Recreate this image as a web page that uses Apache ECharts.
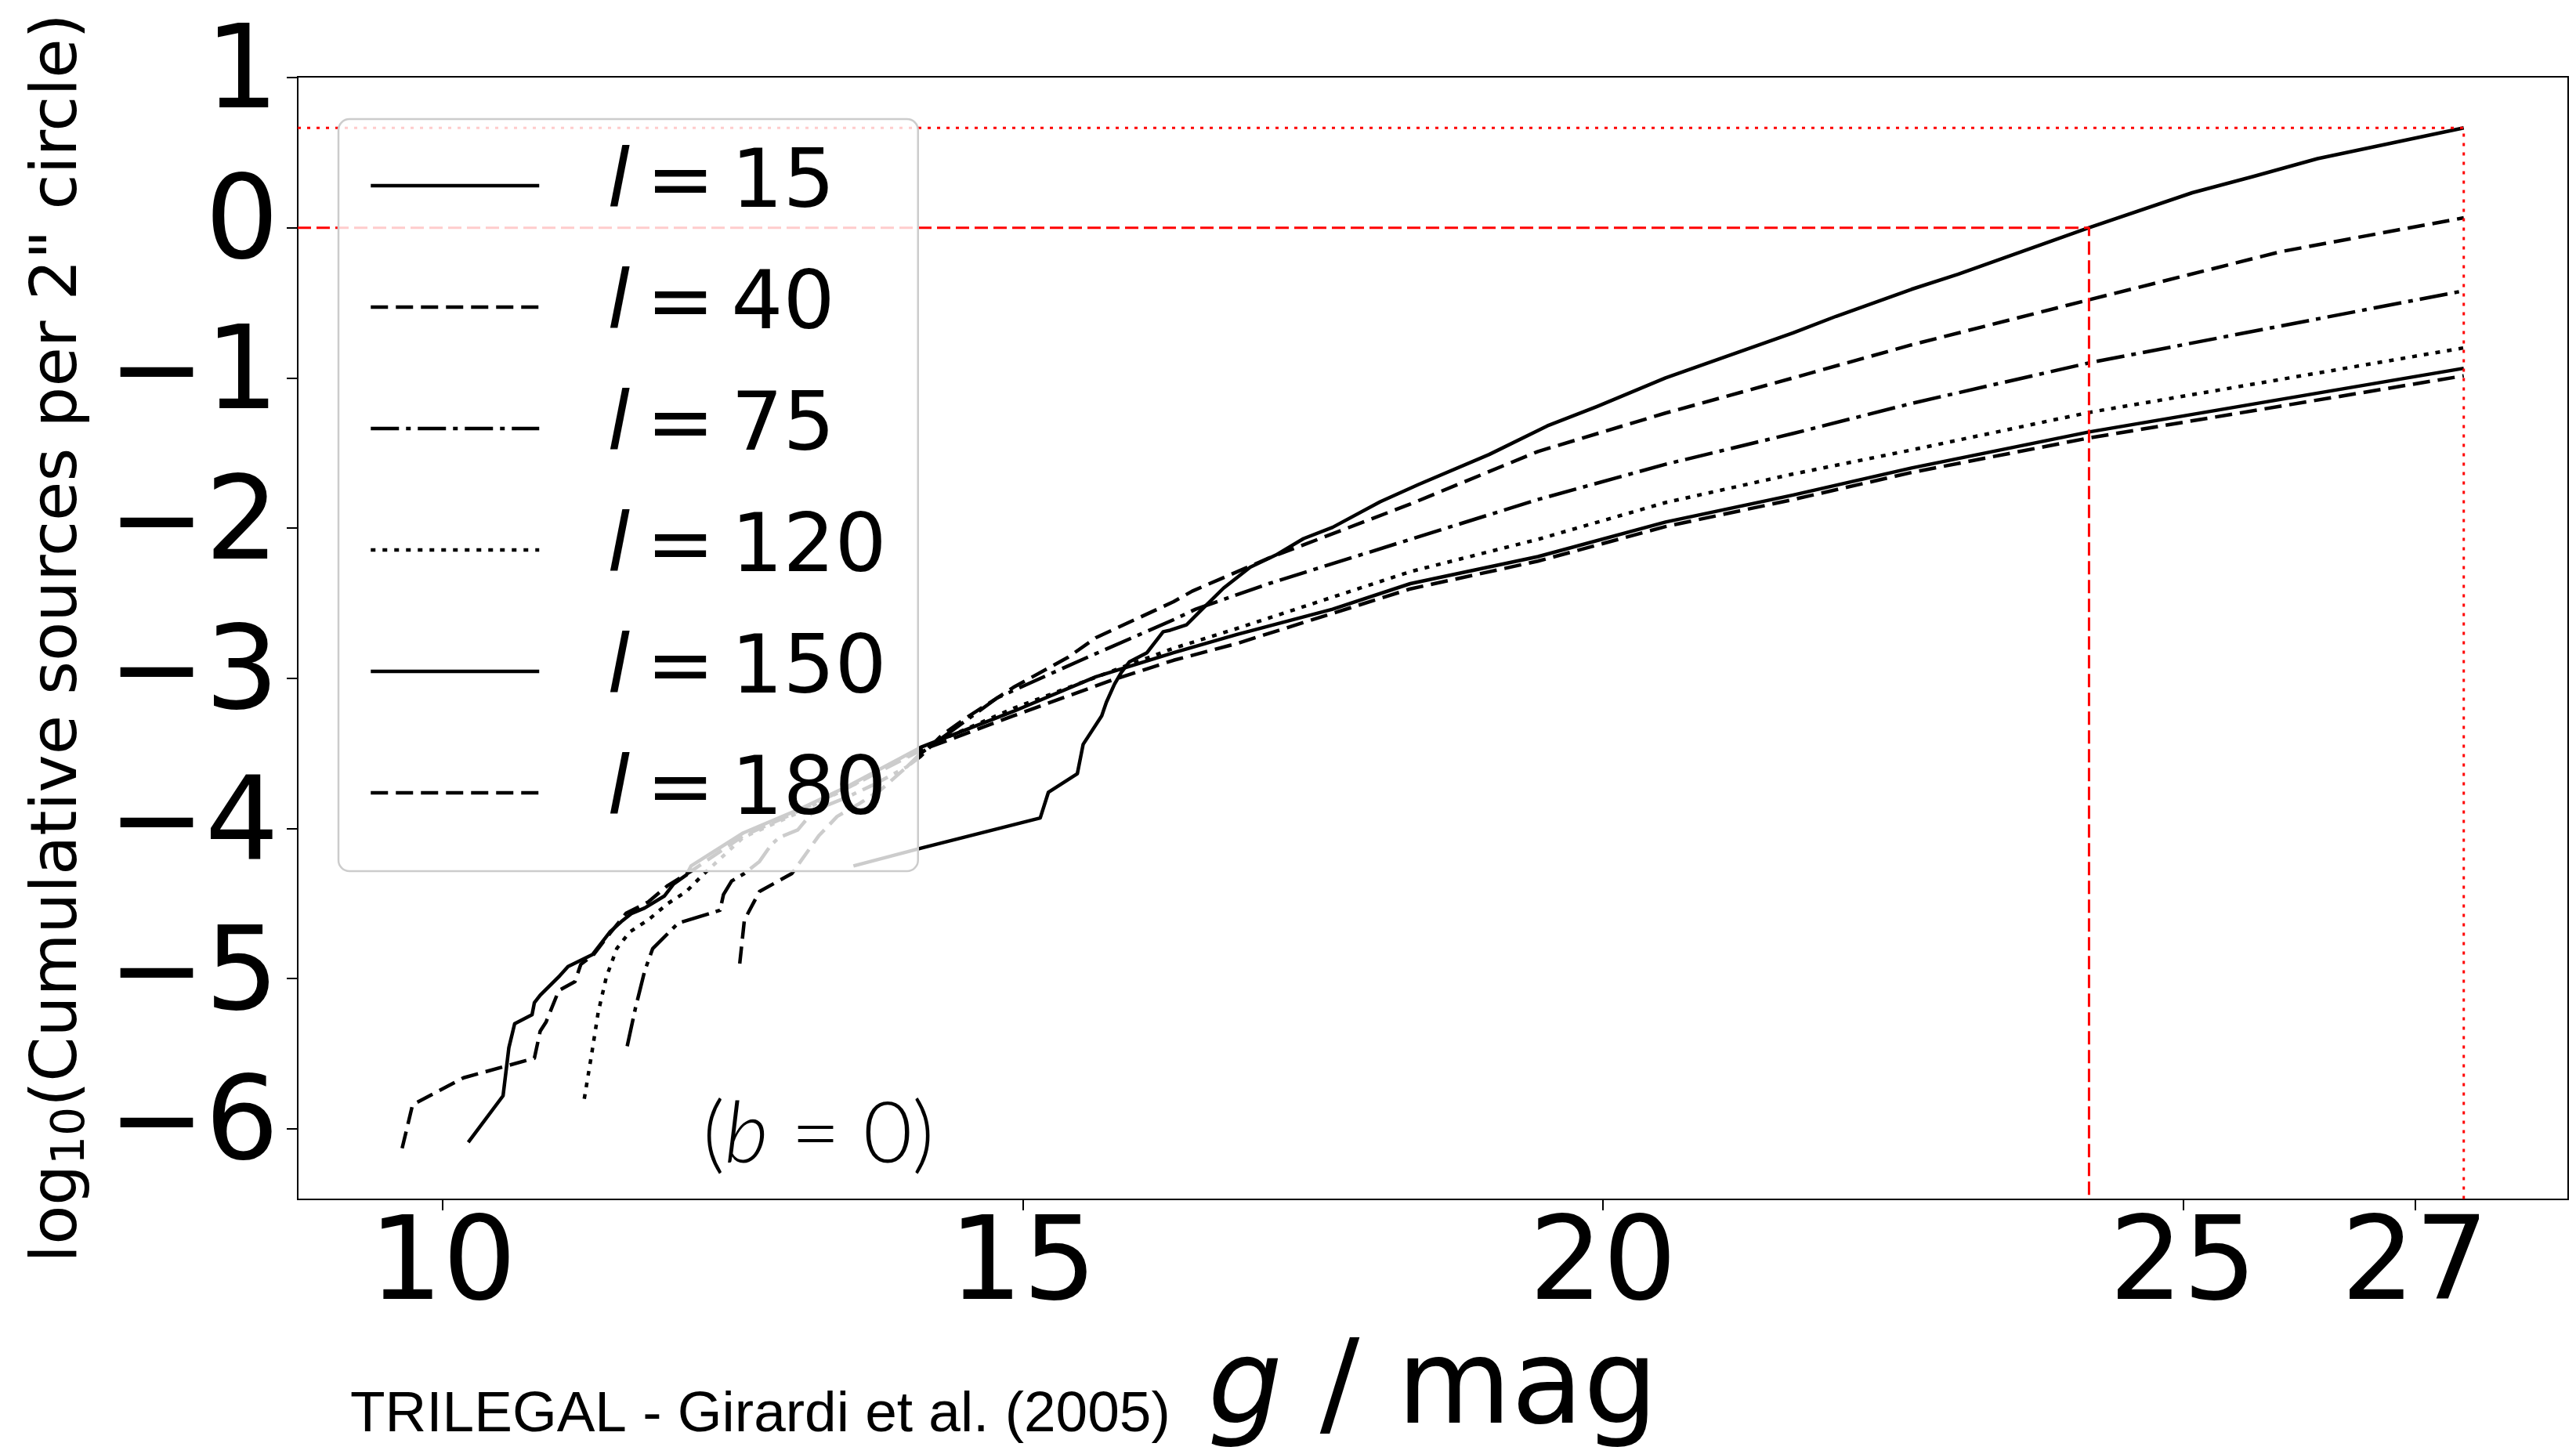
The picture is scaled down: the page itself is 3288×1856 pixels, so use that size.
<!DOCTYPE html>
<html>
<head>
<meta charset="utf-8">
<title>TRILEGAL cumulative source counts</title>
<script src="https://cdn.jsdelivr.net/npm/echarts@6/dist/echarts.min.js"></script>
<style>
  html, body { margin: 0; padding: 0; background: #fff; }
  #chart { width: 3288px; height: 1856px; }
</style>
</head>
<body>
<div id="chart"></div>
<script>
// galactic longitudes, all at b = 0
var longitudes = [15, 40, 75, 120, 150, 180];

// [g mag, log10 cumulative sources per 2" circle]
var counts15 = [[13.54,-4.25],[14.13,-4.13],[15.15,-3.93],[15.22,-3.76],[15.47,-3.635],[15.52,-3.44],[15.68,-3.25],[15.72,-3.16],
  [15.79,-3.04],[15.85,-2.96],[15.92,-2.89],[16.07,-2.83],[16.21,-2.69],[16.27,-2.68],[16.41,-2.645],[16.52,-2.56],[16.73,-2.40],
  [16.96,-2.26],[17.18,-2.18],[17.42,-2.07],[17.67,-1.995],[18.08,-1.825],[18.41,-1.71],[19.02,-1.51],[19.52,-1.32],[19.95,-1.19],
  [20.54,-1.00],[20.98,-0.88],[21.64,-0.70],[22.01,-0.59],[22.66,-0.41],[23.06,-0.31],[24.19,0],[25.08,0.233],[25.60,0.34],
  [26.16,0.46],[27.42,0.665]];
var counts40 = [[12.56,-4.90],[12.60,-4.61],[12.73,-4.42],[13.01,-4.30],[13.24,-4.05],[13.40,-3.92],[13.58,-3.84],[13.78,-3.74],
  [14.00,-3.59],[14.12,-3.52],[14.30,-3.38],[14.50,-3.27],[14.92,-3.06],[15.39,-2.86],[15.63,-2.73],[16.30,-2.49],[16.46,-2.42],
  [17.12,-2.20],[18.34,-1.84],[19.44,-1.49],[20.54,-1.234],[21.64,-1.00],[22.66,-0.78],[24.19,-0.48],[25.84,-0.16],[27.42,0.066]];
var counts75 = [[11.59,-5.45],[11.66,-5.20],[11.74,-4.95],[11.81,-4.80],[11.94,-4.70],[12.03,-4.63],[12.39,-4.545],[12.42,-4.44],
  [12.49,-4.35],[12.60,-4.30],[12.73,-4.22],[12.83,-4.11],[12.90,-4.06],[13.06,-4.01],[13.19,-3.89],[13.33,-3.84],[13.49,-3.79],
  [13.71,-3.71],[14.00,-3.59],[14.12,-3.50],[14.78,-3.13],[15.47,-2.89],[16.30,-2.61],[16.49,-2.54],[17.12,-2.37],[18.34,-2.075],
  [19.44,-1.81],[20.54,-1.575],[21.64,-1.37],[22.66,-1.17],[24.19,-0.90],[27.42,-0.42]];
var counts120 = [[11.22,-5.80],[11.28,-5.52],[11.34,-5.225],[11.41,-4.99],[11.50,-4.80],[11.61,-4.69],[11.77,-4.61],[11.94,-4.50],
  [12.10,-4.42],[12.24,-4.31],[12.59,-4.06],[13.08,-3.89],[13.49,-3.73],[14.12,-3.47],[14.92,-3.20],[15.88,-2.92],[16.30,-2.80],
  [16.84,-2.67],[18.34,-2.29],[19.44,-2.075],[20.54,-1.83],[21.64,-1.64],[22.66,-1.48],[24.19,-1.23],[27.42,-0.80]];
var counts150 = [[10.22,-6.09],[10.52,-5.78],[10.57,-5.46],[10.62,-5.30],[10.77,-5.24],[10.79,-5.16],[10.84,-5.11],[11.01,-4.98],
  [11.08,-4.92],[11.17,-4.885],[11.29,-4.84],[11.44,-4.69],[11.54,-4.62],[11.63,-4.565],[11.74,-4.53],[11.91,-4.45],[11.99,-4.37],
  [12.10,-4.31],[12.14,-4.25],[12.59,-4.03],[13.08,-3.87],[13.49,-3.72],[14.12,-3.46],[14.92,-3.22],[15.63,-2.99],[16.30,-2.83],
  [16.84,-2.71],[17.67,-2.54],[18.34,-2.37],[19.44,-2.19],[20.54,-1.96],[21.64,-1.78],[22.66,-1.60],[24.19,-1.36],[27.42,-0.936]];
var counts180 = [[9.65,-6.13],[9.74,-5.84],[10.18,-5.66],[10.79,-5.53],[10.84,-5.35],[10.89,-5.29],[11.00,-5.08],[11.14,-5.02],
  [11.19,-4.905],[11.30,-4.84],[11.44,-4.70],[11.58,-4.565],[11.77,-4.49],[11.94,-4.38],[12.13,-4.29],[12.59,-4.05],[13.08,-3.88],
  [13.49,-3.73],[14.12,-3.48],[14.92,-3.25],[15.74,-3.02],[16.30,-2.88],[16.84,-2.77],[18.34,-2.405],[19.44,-2.22],[20.54,-1.99],
  [21.64,-1.81],[22.66,-1.63],[24.19,-1.40],[27.42,-0.986]];

var magTicks = [10, 15, 20, 25, 27];
var logTicks = [-6, -5, -4, -3, -2, -1, 0, 1];
var magRange = [8.75, 28.32];
var logRange = [-6.47, 1.005];
// red guides: l=15 reaches one source at g=24.19, faint end at g=27.42
var limitMag = [24.19, 27.42];
var limitLog = [0, 0.665];

var allCounts = [counts15, counts40, counts75, counts120, counts150, counts180];
var dashes = ['solid', [22, 10], [36, 9, 6, 9], [6, 9], 'solid', [22, 10]];
var names = longitudes.map(function(l){ return 'l = ' + l; });

var series = names.map(function(name, i){
    return {
        name: name,
        type: 'line',
        data: allCounts[i],
        symbol: 'none',
        showSymbol: false,
        silent: true,
        z: 2,
        lineStyle: { color: '#000', width: 4.5, type: dashes[i], cap: 'butt', join: 'round' }
    };
});

// red dashed (g where log N = 0) and red dotted (faint end) guides
var guideDash = [[17, 7], [4, 8]];
limitMag.forEach(function(m, i){
    series.push({
        name: 'guide' + i,
        type: 'line',
        data: [[magRange[0], limitLog[i]], [m, limitLog[i]], [m, logRange[0]]],
        symbol: 'none',
        silent: true,
        z: 3,
        lineStyle: { color: '#ff0000', width: 3, type: guideDash[i], cap: 'butt' }
    });
});

var chart = echarts.init(document.getElementById('chart'), null, { renderer: 'canvas' });

var option = {
    animation: false,
    backgroundColor: '#fff',
    grid: {
        left: 380, right: 10, top: 98, bottom: 325,
        outerBoundsMode: 'none',
        containLabel: false,
        show: true, borderColor: '#000', borderWidth: 2, backgroundColor: 'transparent'
    },
    legend: {
        data: names.map(function(n, i){
            return { name: n, lineStyle: { type: dashes[i], width: 4.5, color: '#000', cap: 'butt' } };
        }),
        orient: 'vertical',
        left: 432, top: 152,
        padding: [30, 40, 45, 39],
        itemWidth: 215, itemHeight: 30, itemGap: 45,
        backgroundColor: 'rgba(255,255,255,0.8)',
        borderColor: '#cccccc', borderWidth: 2.5, borderRadius: 14,
        selectedMode: false,
        itemStyle: { opacity: 0 },
        lineStyle: { width: 4.5, color: '#000' },
        // mathtext-like: italic l, tighter spaces around '='
        formatter: function(name){
            var parts = name.split(' = ');
            return '{i|' + parts[0] + '}{sp| }={sp| }' + parts[1];
        },
        textStyle: {
            color: '#000', fontFamily: 'DejaVu Sans', fontSize: 104, lineHeight: 110,
            padding: [0, 0, 0, 82],
            rich: {
                i: { fontStyle: 'italic', fontFamily: 'DejaVu Sans', fontSize: 104, lineHeight: 110, color: '#000' },
                sp: { fontFamily: 'DejaVu Sans', fontSize: 66, lineHeight: 110, color: '#000' }
            }
        }
    },
    xAxis: {
        type: 'value',
        min: magRange[0], max: magRange[1],
        name: '{i|g} / mag',
        nameLocation: 'middle',
        nameGap: 162,
        nameTextStyle: {
            color: '#000', fontFamily: 'DejaVu Sans', fontSize: 150, lineHeight: 155,
            rich: { i: { fontStyle: 'italic', fontFamily: 'DejaVu Sans', fontSize: 150, lineHeight: 155, color: '#000' } }
        },
        axisLine: { show: true, onZero: false, lineStyle: { color: '#000', width: 2 } },
        axisTick: { show: true, inside: false, length: 14, lineStyle: { color: '#000', width: 2 }, customValues: magTicks },
        axisLabel: { customValues: magTicks, margin: 14, color: '#000', fontFamily: 'DejaVu Sans', fontSize: 148, lineHeight: 150 },
        splitLine: { show: false }
    },
    yAxis: {
        type: 'value',
        min: logRange[0], max: logRange[1],
        name: '{m|log}{s|10}{m|(Cumulative sources per 2" circle)}',
        nameLocation: 'middle',
        nameGap: 259,
        nameTextStyle: {
            color: '#000', fontFamily: 'DejaVu Sans', fontSize: 82, lineHeight: 90,
            rich: {
                m: { fontFamily: 'DejaVu Sans', fontSize: 82, lineHeight: 90, color: '#000' },
                s: { fontFamily: 'DejaVu Sans', fontSize: 58, lineHeight: 52, verticalAlign: 'bottom', color: '#000' }
            }
        },
        axisLine: { show: true, onZero: false, lineStyle: { color: '#000', width: 2 } },
        axisTick: { show: true, inside: false, length: 14, lineStyle: { color: '#000', width: 2 }, customValues: logTicks },
        axisLabel: {
            customValues: logTicks, margin: 24, color: '#000', fontFamily: 'DejaVu Sans', fontSize: 148,
            formatter: function(v){ return v < 0 ? '\u2212' + (-v) : String(v); }
        },
        splitLine: { show: false }
    },
    graphic: [
        {
            type: 'text', x: 447, y: 1807, silent: true,
            style: { text: 'TRILEGAL - Girardi et al. (2005)', fill: '#000', font: '73px "Liberation Sans", sans-serif', verticalAlign: 'middle' }
        },
        {
            type: 'text', x: 897, y: 1449, silent: true,
            style: {
                text: '({b|b} = 0)', fill: '#000', fontFamily: 'Lato', fontWeight: 300, fontSize: 108, verticalAlign: 'middle',
                rich: { b: { fontFamily: 'Lato', fontWeight: 300, fontStyle: 'italic', fontSize: 108, fill: '#000' } }
            }
        }
    ],
    series: series
};

chart.setOption(option);
</script>
</body>
</html>
